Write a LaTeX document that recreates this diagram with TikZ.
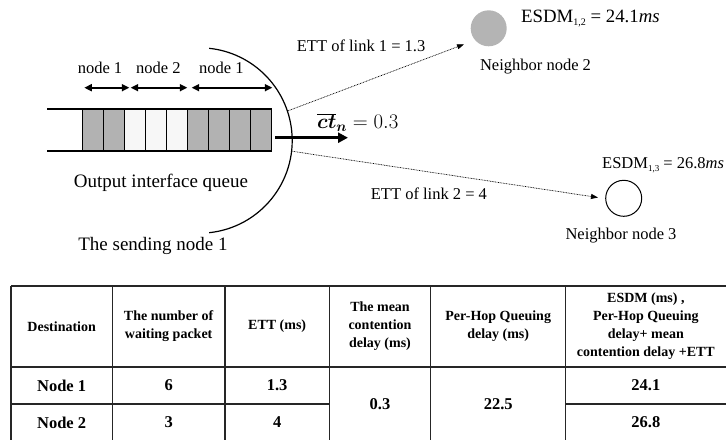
\documentclass[tikz,border=0pt]{standalone}
\usepackage{fontspec}
\usepackage{bm}
\setmainfont{Liberation Serif}
\usetikzlibrary{arrows.meta}
\definecolor{cellgray}{HTML}{B2B2B2}
\definecolor{celllight}{HTML}{F7F7F7}
\definecolor{nodegray}{HTML}{B4B4B4}
\begin{document}
\begin{tikzpicture}[x=1pt,y=-1pt,
  txt/.style={font=\fontsize{16.5}{19}\selectfont, inner sep=0pt},
  bigtxt/.style={font=\fontsize{19}{22}\selectfont, inner sep=0pt},
  hdr/.style={font=\fontsize{14}{18}\selectfont\bfseries, align=center, inner sep=0pt},
  dat/.style={font=\fontsize{16.5}{19}\selectfont\bfseries, inner sep=0pt},
  cellbox/.style={draw=black, line width=1.1pt, minimum width=21pt, minimum height=42pt, inner sep=0pt, outer sep=0pt},
  dbl/.style={{Triangle[length=7.5pt,width=7pt]}-{Triangle[length=7.5pt,width=7pt]}, line width=1.8pt},
  dots/.style={line width=0.7pt, dash pattern=on 0.8pt off 0.8pt, -{Triangle[length=7pt,width=5pt]}},
  tbl/.style={line width=1.4pt, draw=black!85}
]
\useasboundingbox (0,0) rectangle (726,440);

% queue cells
\foreach \i/\c in {0/cellgray,1/cellgray,2/celllight,3/celllight,4/celllight,5/cellgray,6/cellgray,7/cellgray,8/cellgray}
  \node[cellbox, fill=\c] (c\i) at ({93.2+21*\i},130) {};
\coordinate (qtl) at (47,109);
\coordinate (qbl) at (47,151);
\draw[line width=1.4pt] (qtl) -- (c0.north west);
\draw[line width=1.4pt] (qbl) -- (c0.south west);

% node labels and double arrows
\node[txt] (l1) at (100,68) {node 1};
\node[txt] (l2) at (158.3,68) {node 2};
\node[txt] (l3) at (221.3,68) {node 1};
\coordinate (a1) at (84.3,87.7);
\coordinate (a2) at (129.3,87.7);
\coordinate (a3) at (130.7,87.7);
\coordinate (a4) at (187.3,87.7);
\coordinate (a5) at (191.7,87.7);
\coordinate (a6) at (272.3,87.7);
\draw[dbl] (a1) -- (a2);
\draw[dbl] (a3) -- (a4);
\draw[dbl] (a5) -- (a6);

% sending node arc
\draw[line width=1.2pt] (199.5,140.5) ++(84:92.7) arc[start angle=84,end angle=-84,radius=92.7];

\node[bigtxt] (oiq) at (161,183) {Output interface queue};
\node[bigtxt] (snd) at (153,246) {The sending node 1};

% output arrow
\coordinate (o1) at (275,137.7);
\coordinate (o2) at (348,137.7);
\draw[line width=3pt, -{Triangle[length=10pt,width=10pt]}] (o1) -- (o2);
\node[font=\fontsize{22.5}{25}\selectfont, inner sep=0pt, anchor=base west] (ct) at (317,128.5) {$\overline{\bm{ct}}_{\bm{n}} = 0.3$};

% neighbours
\node[circle, fill=nodegray, minimum size=36pt, inner sep=0pt] (n2) at (488.7,28.3) {};
\node[circle, draw, line width=1pt, minimum size=36pt, inner sep=0pt] (n3) at (623.7,198.3) {};
\node[txt] (n2l) at (535.5,66.7) {Neighbor node 2};
\node[txt] (n3l) at (621,236) {Neighbor node 3};
\node[font=\fontsize{18.8}{22}\selectfont, anchor=west, inner sep=0pt] (e2) at (521,18.3)
  {ESDM\raisebox{-3pt}{\fontsize{10}{10}\selectfont 1,2} = 24.1\textit{ms}};
\node[font=\fontsize{16.5}{19}\selectfont, anchor=west, inner sep=0pt] (e3) at (602,165)
  {ESDM\raisebox{-2.5pt}{\fontsize{9}{9}\selectfont 1,3} = 26.8\textit{ms}};

% links
\coordinate (s1) at (288.3,110.7);
\coordinate (t1) at (464,44.3);
\coordinate (s2) at (292.5,151.3);
\coordinate (t2) at (598,197.5);
\draw[dots] (s1) -- (t1);
\draw[dots] (s2) -- (t2);
\node[txt, anchor=west] (ett1) at (296.7,46) {ETT of link 1 = 1.3};
\node[txt, anchor=west] (ett2) at (370.7,193.3) {ETT of link 2 = 4};

% table
\draw[tbl] (11,286) -- (726,286);
\draw[tbl] (11,367) -- (726,367);
\draw[tbl] (11,404) -- (329.3,404);
\draw[tbl] (565.7,404) -- (726,404);
\foreach \x in {11,112.3,225,329.3,430.7,565.7}
  \draw[tbl] (\x,286) -- (\x,440);

\node[hdr] (h1) at (61.65,326.5) {Destination};
\node[hdr] (h2) at (168.65,326.5) {The number of\\waiting packet};
\node[hdr] (h3) at (277.15,326.5) {ETT (ms)};
\node[hdr] (h4) at (380,326.5) {The mean\\contention\\delay (ms)};
\node[hdr] (h5) at (498.2,326.5) {Per-Hop Queuing\\delay (ms)};
\node[hdr] (h6) at (645.85,326.5) {ESDM (ms) ,\\Per-Hop Queuing\\delay+ mean\\contention delay +ETT};

\node[dat] (r1c1) at (61.65,385.5) {Node 1};
\node[dat] (r1c2) at (168.65,385.5) {6};
\node[dat] (r1c3) at (277.15,385.5) {1.3};
\node[dat] (r2c1) at (61.65,422.5) {Node 2};
\node[dat] (r2c2) at (168.65,422.5) {3};
\node[dat] (r2c3) at (277.15,422.5) {4};
\node[dat] (m4) at (380,404) {0.3};
\node[dat] (m5) at (498.2,404) {22.5};
\node[dat] (r1c6) at (645.85,385.5) {24.1};
\node[dat] (r2c6) at (645.85,422.5) {26.8};
\end{tikzpicture}
\end{document}
